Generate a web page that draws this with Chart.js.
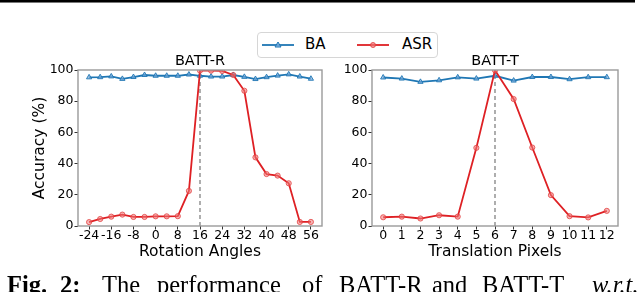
<!DOCTYPE html>
<html><head><meta charset="utf-8">
<script src="https://cdn.jsdelivr.net/npm/chart.js@4"></script>
<style>
html,body{margin:0;padding:0;background:#fff;}
#root{position:relative;width:640px;height:292px;overflow:hidden;background:#fff;}
canvas{position:absolute;top:0;}
#topbar{position:absolute;left:0;top:0;width:635px;height:2px;background:#000;border-bottom:1px solid #777;}
#legend{position:absolute;left:257px;top:32px;width:179px;height:24px;border:1px solid #d6d6d6;border-radius:4px;background:#fff;}
.lg{position:absolute;font-family:"DejaVu Sans";font-size:15px;line-height:15px;color:#000;white-space:nowrap;}
.cap{position:absolute;top:272px;font-family:"Liberation Serif";font-size:24.5px;line-height:25px;color:#000;white-space:nowrap;}
</style></head><body>
<div id="root">
<div id="topbar"></div>
<canvas id="c1" width="330" height="292" style="left:0px"></canvas>
<canvas id="c2" width="310" height="292" style="left:330px"></canvas>
<div id="legend">
  <svg style="position:absolute;left:4px;top:6px" width="34" height="12">
    <line x1="0" y1="6" x2="32" y2="6" stroke="#1f77b4" stroke-width="1.8"/>
    <polygon points="16,3 19,8 13,8" fill="rgba(120,170,220,0.8)" stroke="#1f77b4" stroke-width="1"/>
  </svg>
  <span class="lg" style="left:47px;top:4px">BA</span>
  <svg style="position:absolute;left:99px;top:6px" width="34" height="12">
    <line x1="0" y1="6" x2="32" y2="6" stroke="rgb(222,32,36)" stroke-width="1.8"/>
    <circle cx="16" cy="6" r="2.5" fill="rgba(240,120,120,0.7)" stroke="rgba(225,60,60,0.8)" stroke-width="1"/>
  </svg>
  <span class="lg" style="left:144px;top:4px">ASR</span>
</div>
<span class="cap" style="left:7px;font-weight:bold">Fig.</span>
<span class="cap" style="left:60px;font-weight:bold">2:</span>
<span class="cap" style="left:102px">The</span>
<span class="cap" style="left:157px">performance</span>
<span class="cap" style="left:302px">of</span>
<span class="cap" style="left:339px">BATT-R</span>
<span class="cap" style="left:432px">and</span>
<span class="cap" style="left:482px">BATT-T</span>
<span class="cap" style="left:592px;font-style:italic">w.r.t.</span>
</div>
<script>
// ---- data ----
const rotationAngles = [-24,-20,-16,-12,-8,-4,0,4,8,12,16,20,24,28,32,36,40,44,48,52,56];
const rotationTickLabels = [-24,-16,-8,0,8,16,24,32,40,48,56];
const baRotation  = [95.3,95.4,95.9,94.3,95.5,96.8,96.3,96.3,96.3,97.1,96.3,95.8,95.8,96.8,95.6,94.2,95.4,96.4,97.2,95.8,94.4];
const asrRotation = [2.5,4.5,6.0,7.3,5.8,5.8,6.2,6.2,6.3,22.5,99.6,99.6,99.4,96.8,86.7,44.0,33.3,32.3,27.4,2.6,2.6];
const rotationDivider = 16;

const translationPixels = [0,1,2,3,4,5,6,7,8,9,10,11,12];
const translationTickLabels = [0,1,2,3,4,5,6,7,8,9,10,11,12];
const baTranslation  = [95.2,94.5,92.4,93.4,95.3,94.5,96.3,93.2,95.5,95.5,94.1,95.4,95.4];
const asrTranslation = [5.6,6.0,4.8,6.9,6.0,50.1,99.8,81.4,50.3,19.8,6.3,5.5,9.7];
const translationDivider = 6;

const yTicks = [0,20,40,60,80,100];

// ---- styling ----
const FONT = "DejaVu Sans";
const BLUE = "#1f77b4", RED = "rgb(222,32,36)";

const framePlugin = {
  id: 'frame',
  afterDatasetsDraw(chart) {
    const a = chart.chartArea, ctx = chart.ctx;
    ctx.save();
    ctx.strokeStyle = '#9a9a9a';
    ctx.lineWidth = 1.4;
    ctx.strokeRect(a.left, a.top, a.right - a.left, a.bottom - a.top);
    ctx.restore();
  }
};

function makeChart(id, xs, ba, asr, divider, tickLabels, xMin, xMax, title, xTitle, yTitle, yWidth, padRight) {
  const pts = (arr) => xs.map((x, i) => ({x, y: arr[i]}));
  return new Chart(document.getElementById(id), {
    type: 'line',
    data: {
      datasets: [
        {label: 'ASR', data: pts(asr), borderColor: RED, borderWidth: 1.8,
         pointStyle: 'circle', pointRadius: 2.6, pointBorderWidth: 1,
         pointBackgroundColor: 'rgba(240,120,120,0.55)', pointBorderColor: 'rgba(225,60,60,0.75)',
         order: 0, tension: 0},
        {label: 'BA', data: pts(ba), borderColor: BLUE, borderWidth: 1.8,
         pointStyle: 'triangle', pointRadius: 3, pointBorderWidth: 1,
         pointBackgroundColor: 'rgba(120,170,220,0.7)', pointBorderColor: 'rgba(31,119,180,0.9)',
         order: 1, tension: 0},
        {label: 'divider', data: [{x: divider, y: 0}, {x: divider, y: 100}], borderColor: '#8c8c8c',
         borderWidth: 1.4, borderDash: [4, 3], pointRadius: 0, order: 2}
      ]
    },
    options: {
      responsive: false, animation: false, devicePixelRatio: 1,
      layout: {padding: {top: 47.6, right: padRight, left: 0, bottom: 0}},
      plugins: {
        legend: {display: false}, tooltip: {enabled: false},
        title: {display: true, text: title, fullSize: false, color: '#000',
                font: {family: FONT, size: 14.5, weight: 'normal', lineHeight: 1.2},
                padding: {top: 5, bottom: 0}}
      },
      scales: {
        x: {
          type: 'linear', min: xMin, max: xMax,
          afterBuildTicks: (s) => { s.ticks = tickLabels.map(v => ({value: v})); },
          afterFit: (s) => { s.height = 66; },
          ticks: {autoSkip: false, maxRotation: 0, color: '#000', padding: 0,
                  font: {family: FONT, size: 12.5, lineHeight: 1.0}, callback: (v) => String(v)},
          grid: {display: true, drawOnChartArea: false, drawTicks: true, tickLength: 3.5, tickColor: '#333', lineWidth: 1},
          border: {display: false},
          title: {display: true, text: xTitle, color: '#000', font: {family: FONT, size: 15.5, lineHeight: 1.2},
                  padding: {top: 0, bottom: 30.5}}
        },
        y: {
          min: 0, max: 100,
          afterBuildTicks: (s) => { s.ticks = yTicks.map(v => ({value: v})); },
          afterFit: (s) => { s.width = yWidth; },
          ticks: {color: '#000', padding: 1, font: {family: FONT, size: 12.5}},
          grid: {display: true, drawOnChartArea: false, drawTicks: true, tickLength: 3.5, tickColor: '#333', lineWidth: 1},
          border: {display: false},
          title: {display: !!yTitle, text: yTitle || '', color: '#000', font: {family: FONT, size: 15.5, lineHeight: 1.2},
                  padding: {top: 30.5, bottom: 0}}
        }
      }
    },
    plugins: [framePlugin]
  });
}

makeChart('c1', rotationAngles, baRotation, asrRotation, rotationDivider, rotationTickLabels,
          -28, 60, 'BATT-R', 'Rotation Angles', 'Accuracy (%)', 78, 8);
makeChart('c2', translationPixels, baTranslation, asrTranslation, translationDivider, translationTickLabels,
          -0.6, 12.6, 'BATT-T', 'Translation Pixels', null, 42, 22);
</script>
</body></html>
